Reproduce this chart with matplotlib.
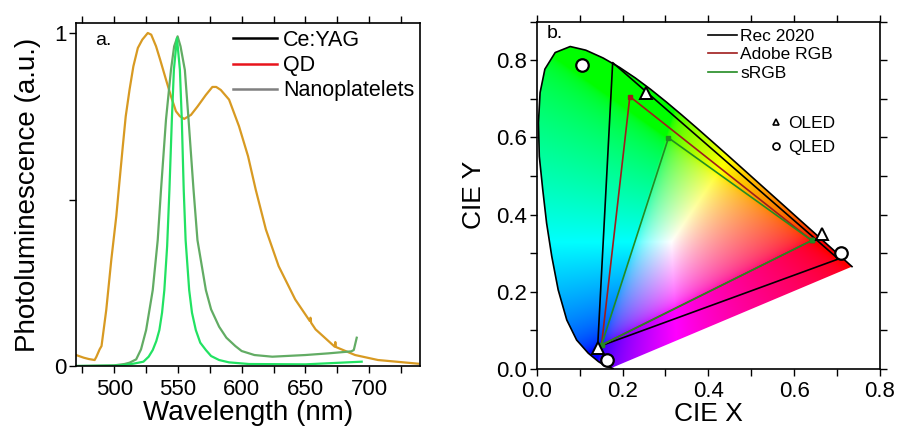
import numpy as np
import matplotlib
matplotlib.use("Agg")
import matplotlib.pyplot as plt
from matplotlib.lines import Line2D
from matplotlib.patches import Polygon
from matplotlib.ticker import MultipleLocator, FixedLocator, FormatStrFormatter

plt.rcParams['font.family'] = ['Liberation Sans', 'DejaVu Sans']

# -- panel a: photoluminescence spectra ---------------------------------------

yag_nm = [470, 476, 480, 484.6, 486, 488.5, 490, 493.7, 497.7, 501.6, 504,
          506.7, 509, 512, 515, 518.5, 522, 526.3, 529, 532.8, 536, 540.6,
          544.5, 548.4, 551.5, 554.9, 557.5, 560.2, 565.3, 571.9, 577, 580,
          583.6, 590.1, 597.9, 605, 611, 619, 629, 642, 653.5, 654, 654.5,
          658, 673, 673.5, 674, 689, 707, 738.5]
yag_pl = [0.033, 0.025, 0.021, 0.018, 0.028, 0.05, 0.06, 0.168, 0.32, 0.45,
          0.55, 0.66, 0.75, 0.83, 0.90, 0.955, 0.98, 1.0, 0.995, 0.96, 0.92,
          0.86, 0.81, 0.765, 0.75, 0.742, 0.748, 0.754, 0.779, 0.814, 0.838,
          0.838, 0.829, 0.80, 0.72, 0.63, 0.53, 0.41, 0.30, 0.20, 0.135,
          0.145, 0.13, 0.11, 0.058, 0.072, 0.057, 0.033, 0.018, 0.007]

qd_nm = [470, 500, 508, 512, 517.2, 521, 525, 530.2, 534.1, 536.7, 540.6,
         544.5, 547, 549.7, 552, 555.4, 558.3, 562.2, 565.3, 571.9, 576,
         582.3, 588, 595, 600, 610, 624, 650, 668, 686, 688, 690.3]
qd_pl = [0.0, 0.002, 0.006, 0.01, 0.02, 0.05, 0.108, 0.228, 0.378, 0.53,
         0.74, 0.889, 0.96, 0.99, 0.96, 0.889, 0.74, 0.53, 0.378, 0.228, 0.17,
         0.118, 0.085, 0.06, 0.045, 0.033, 0.028, 0.033, 0.038, 0.044, 0.048,
         0.085]

npl_nm = [470, 500, 507.5, 515, 522.9, 527, 530.2, 533, 535.4, 537.5, 539.3,
          541.5, 543.3, 545.2, 546.8, 549.2, 551.5, 553.0, 554.5, 556, 558.8,
          561, 564, 567.5, 571.9, 576, 582.3, 590, 605.7, 650, 694.2]
npl_pl = [0.0, 0.001, 0.003, 0.007, 0.013, 0.028, 0.048, 0.075, 0.108, 0.16,
          0.228, 0.36, 0.53, 0.74, 0.89, 0.985, 0.89, 0.74, 0.53, 0.378,
          0.228, 0.16, 0.108, 0.07, 0.048, 0.03, 0.018, 0.011, 0.006, 0.005,
          0.013]

legend_a = ['Ce:YAG', 'QD', 'Nanoplatelets']

# -- panel b: chromaticity diagram --------------------------------------------

# outline as drawn in the figure: rounded blue/cyan side, CIE 1931 values
# from 525 nm to the red end
locus_x = [0.175, 0.178, 0.160, 0.144, 0.120, 0.093, 0.070, 0.050, 0.035,
           0.023, 0.014, 0.006, 0.004, 0.0078, 0.019, 0.043, 0.078,
           0.1142, 0.1547, 0.1929, 0.2296, 0.2658, 0.3016, 0.3373, 0.3731,
           0.4087, 0.4441, 0.4788, 0.5125, 0.5448, 0.5752, 0.6029, 0.6270,
           0.6482, 0.6658, 0.6801, 0.6915, 0.7006, 0.7079, 0.7140, 0.7190,
           0.7230, 0.7260, 0.7283, 0.7300, 0.7311, 0.7320, 0.7327, 0.7334,
           0.7340, 0.7344, 0.7346, 0.7347]
locus_y = [0.003, 0.001, 0.008, 0.019, 0.041, 0.075, 0.127, 0.205, 0.292,
           0.378, 0.465, 0.551, 0.638, 0.716, 0.777, 0.820, 0.8356,
           0.8262, 0.8059, 0.7816, 0.7543, 0.7243, 0.6923, 0.6589, 0.6245,
           0.5896, 0.5547, 0.5202, 0.4866, 0.4544, 0.4242, 0.3965, 0.3725,
           0.3514, 0.3340, 0.3197, 0.3083, 0.2993, 0.2920, 0.2859, 0.2809,
           0.2770, 0.2740, 0.2717, 0.2700, 0.2689, 0.2680, 0.2673, 0.2666,
           0.2660, 0.2656, 0.2654, 0.2653]

rec2020_x = [0.703, 0.177, 0.142, 0.703]
rec2020_y = [0.285, 0.794, 0.057, 0.285]
adobe_x = [0.641, 0.217, 0.151, 0.641]
adobe_y = [0.333, 0.706, 0.062, 0.333]
srgb_x = [0.641, 0.307, 0.151, 0.641]
srgb_y = [0.333, 0.599, 0.062, 0.333]

oled_x = [0.255, 0.664, 0.1436]
oled_y = [0.716, 0.351, 0.055]
qled_x = [0.105, 0.709, 0.163]
qled_y = [0.787, 0.300, 0.023]

XYZ_TO_RGB = np.array([[3.2406, -1.5372, -0.4986],
                       [-0.9689, 1.8758, 0.0415],
                       [0.0557, -0.2040, 1.0570]])


def chroma_image(nx=480, ny=540):
    gx, gy = np.meshgrid(np.linspace(0, 0.8, nx), np.linspace(0, 0.9, ny))
    yy = np.clip(gy, 1e-4, None)
    xyz = np.stack([gx / yy, np.ones_like(gx), (1 - gx - gy) / yy], axis=-1)
    rgb = xyz @ XYZ_TO_RGB.T
    rgb = np.clip(rgb, 0, None)
    rgb = rgb / (rgb.max(axis=-1, keepdims=True) + 1e-9)
    rgb = np.where(rgb <= 0.0031308, 12.92 * rgb,
                   1.055 * rgb ** (1 / 2.4) - 0.055)
    return np.clip(rgb, 0, 1)


fig = plt.figure(figsize=(9.01, 4.30), dpi=100)
ax1 = fig.add_axes([0.0844, 0.1488, 0.3818, 0.7977])
ax2 = fig.add_axes([0.5957, 0.1419, 0.3810, 0.8077])

# -- a -----------------------------------------------------------------------
ax1.plot(yag_nm, yag_pl, color='#d89a22', lw=1.6)
ax1.plot(qd_nm, qd_pl, color='#62ac64', lw=1.6)
ax1.plot(npl_nm, npl_pl, color='#22e262', lw=1.6)

ax1.set_xlim(470, 740)
ax1.set_ylim(0, 1.03)
ax1.set_xticks([500, 550, 600, 650, 700])
ax1.xaxis.set_minor_locator(MultipleLocator(25))
ax1.set_yticks([0, 1])
ax1.set_yticklabels(['0', '1'])
ax1.yaxis.set_minor_locator(FixedLocator([0.5]))
ax1.tick_params(which='both', direction='out', top=True, right=False,
                length=5, width=1, labelsize=16)
ax1.tick_params(axis='x', pad=4)
ax1.tick_params(axis='y', pad=2)
ax1.set_xlabel('Wavelength (nm)', fontsize=20, labelpad=0)
ax1.set_ylabel('Photoluminescence (a.u.)', fontsize=20, labelpad=9)
ax1.text(0.055, 0.936, 'a.', transform=ax1.transAxes, fontsize=14)

handles_a = [Line2D([], [], color=c, lw=1.8)
             for c in ['black', '#e8141c', '#808080']]
ax1.legend(handles_a, legend_a, loc='upper left',
           bbox_to_anchor=(0.4555, 0.98), frameon=False, fontsize=15.5,
           borderpad=0, borderaxespad=0, handlelength=2.05,
           handletextpad=0.3, labelspacing=0.2)

# -- b -----------------------------------------------------------------------
im = ax2.imshow(chroma_image(), origin='lower', extent=(0, 0.8, 0, 0.9),
                aspect='auto', interpolation='bilinear', zorder=0)
outline = Polygon(np.column_stack([locus_x, locus_y]), closed=True,
                  facecolor='none', edgecolor='none')
ax2.add_patch(outline)
im.set_clip_path(outline)
ax2.plot(locus_x[1:], locus_y[1:], color='black', lw=1.2)

ax2.plot(rec2020_x, rec2020_y, color='black', lw=1.2, label='Rec 2020')
ax2.plot(adobe_x, adobe_y, color='#a01c1c', lw=1.2, label='Adobe RGB',
         marker='s', ms=2.5)
ax2.plot(srgb_x, srgb_y, color='#238b23', lw=1.2, label='sRGB',
         marker='s', ms=2.5)
ax2.plot(oled_x, oled_y, ls='none', marker='^', ms=9, mfc='white',
         mec='black', mew=1.4, zorder=5)
ax2.plot(qled_x, qled_y, ls='none', marker='o', ms=9, mfc='white',
         mec='black', mew=1.6, zorder=5)

ax2.set_xlim(0, 0.8)
ax2.set_ylim(0, 0.9)
ax2.xaxis.set_major_locator(MultipleLocator(0.2))
ax2.xaxis.set_minor_locator(MultipleLocator(0.1))
ax2.yaxis.set_major_locator(MultipleLocator(0.2))
ax2.yaxis.set_minor_locator(MultipleLocator(0.1))
ax2.xaxis.set_major_formatter(FormatStrFormatter('%.1f'))
ax2.yaxis.set_major_formatter(FormatStrFormatter('%.1f'))
ax2.tick_params(which='both', direction='out', top=True, right=True,
                length=5, width=1, labelsize=16, pad=2)
ax2.tick_params(axis='x', pad=4)
ax2.set_xlabel('CIE X', fontsize=19, labelpad=0)
ax2.set_ylabel('CIE Y', fontsize=19, labelpad=7)
ax2.text(0.029, 0.953, 'b.', transform=ax2.transAxes, fontsize=14)

leg1 = ax2.legend(loc='upper left', bbox_to_anchor=(0.499, 0.98),
                  frameon=False, fontsize=12.5, borderpad=0, borderaxespad=0,
                  handlelength=1.65, handletextpad=0.2, labelspacing=0.2)
for h in leg1.get_lines():
    h.set_marker('')
ax2.add_artist(leg1)

handles_b = [Line2D([], [], ls='none', marker='^', ms=5, mfc='white',
                    mec='black', mew=1.2),
             Line2D([], [], ls='none', marker='o', ms=5, mfc='white',
                    mec='black', mew=1.2)]
ax2.legend(handles_b, ['OLED', 'QLED'], loc='upper left',
           bbox_to_anchor=(0.677, 0.73), frameon=False, fontsize=12.5,
           borderpad=0, borderaxespad=0, handlelength=0.8,
           handletextpad=0.3, labelspacing=0.55)

for ax in (ax1, ax2):
    for s in ax.spines.values():
        s.set_linewidth(1.2)

fig.savefig('out.png', dpi=100)
